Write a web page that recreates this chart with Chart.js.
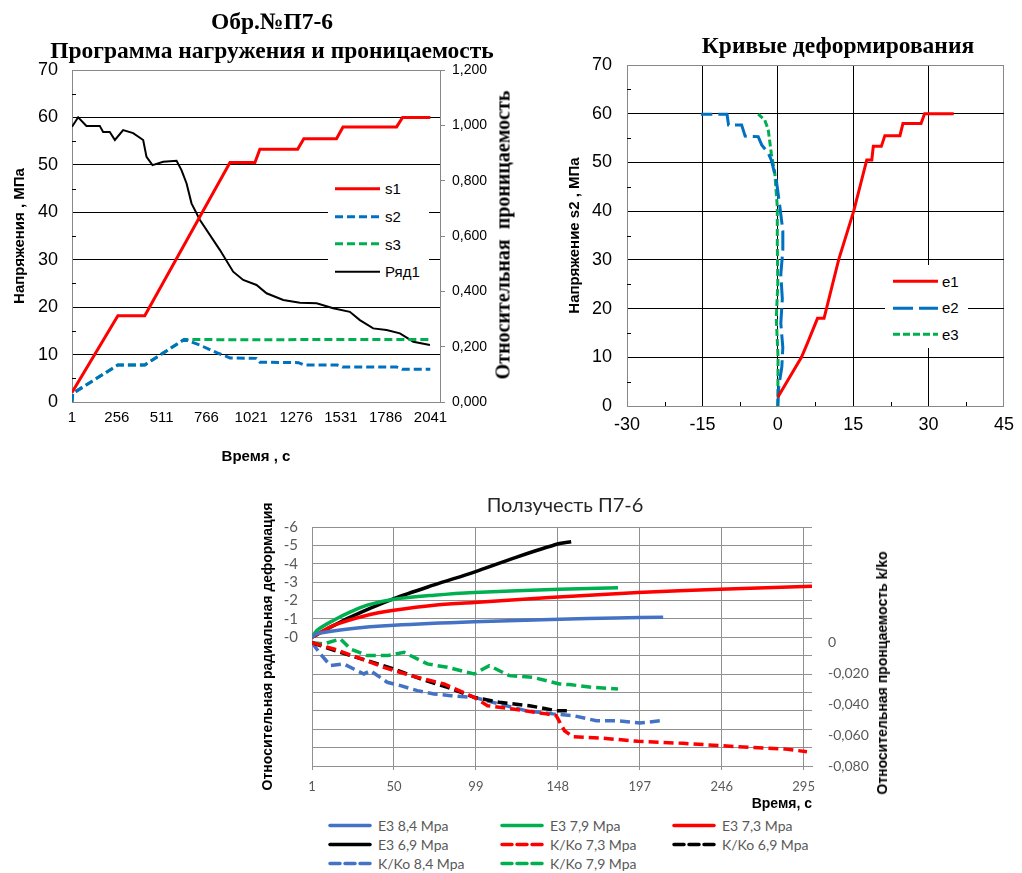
<!DOCTYPE html>
<html>
<head>
  <meta charset="utf-8">
  <title>Обр.№П7-6</title>
  <script src="https://cdn.jsdelivr.net/npm/chart.js"></script>
  <style>
    body { margin: 0; background: #fff; }
    .sheet { position: relative; width: 1022px; height: 873px; overflow: hidden; font-family: "Liberation Sans", Arial, sans-serif; }
    .sheet canvas { position: absolute; }
    .title { position: absolute; font-family: "Liberation Serif", "Times New Roman", serif; font-weight: bold; text-align: center; white-space: nowrap; color: #000; }
    .side { position: absolute; transform: translate(-50%, -50%) rotate(-90deg); white-space: nowrap; font-weight: bold; color: #000; }
    .legend { position: absolute; background: #fff; color: #000; }
    .legend .row { display: flex; align-items: center; white-space: nowrap; }
    .legend svg { display: block; flex: none; }
    #creepLegend { display: grid; grid-template-columns: repeat(3, 172px); background: none; color: #595959; font-family: Lato, "Noto Sans", sans-serif; font-size: 14px; }
  </style>
</head>
<body>
<div class="sheet">
  <canvas id="loadChart" width="520" height="470" style="left:0;top:0"></canvas>
  <canvas id="deformChart" width="482" height="430" style="left:540px;top:30px"></canvas>
  <canvas id="creepChart" width="650" height="325" style="left:250px;top:490px"></canvas>

  <!-- программа нагружения -->
  <div class="title" style="left:22px;top:7px;width:500px;font-size:23.5px;line-height:29px">Обр.№П7-6<br>Программа нагружения и проницаемость</div>
  <div class="side" style="left:503px;top:235px;font-family:'Liberation Serif',serif;font-size:20px">Относительная&nbsp; проницаемость</div>
  <div class="legend" id="loadLegend" style="left:328px;top:175px;width:101px;font-size:15px"></div>

  <!-- кривые деформирования -->
  <div class="title" style="left:638px;top:31px;width:400px;font-size:23.5px;line-height:28px">Кривые деформирования</div>
  <div class="legend" id="deformLegend" style="left:885px;top:265px;width:83px;height:80px;padding-top:3px;font-size:15px"></div>

  <!-- ползучесть -->
  <div style="position:absolute;left:365px;top:492px;width:400px;text-align:center;font-family:Lato,'Noto Sans',sans-serif;font-size:20px;color:#262626">Ползучесть П7-6</div>
  <div class="side" style="left:882px;top:673px;font-size:14px">Относительная пронцаемость k/ko</div>
  <div class="legend" id="creepLegend" style="left:328px;top:816px"></div>
</div>

<script>
  // ---- Программа нагружения (время, с) ----
  const loadTicks = [1, 256, 511, 766, 1021, 1276, 1531, 1786, 2041];

  const s1Time = [1, 262, 415, 900, 1042, 1070, 1285, 1320, 1506, 1543, 1848, 1882, 2040];
  const s1Val  = [2, 18.2, 18.2, 50.5, 50.5, 53.3, 53.3, 55.5, 55.5, 58, 58, 60, 60];

  const s2Time = [1, 5, 262, 415, 640, 729, 824, 900, 1050, 1070, 1290, 1320, 1510, 1540, 1848, 1880, 2040];
  const s2Val  = [0, 1.8, 7.8, 7.8, 13.2, 12.0, 10.4, 9.3, 9.2, 8.4, 8.3, 7.8, 7.8, 7.4, 7.4, 6.9, 6.9];

  const s3Time = [1, 5, 262, 415, 640, 1000, 1500, 2040];
  const s3Val  = [0, 1.8, 7.8, 7.8, 13.2, 13.1, 13.2, 13.2];

  const permTime = [1, 36, 83, 159, 178, 216, 245, 292, 349, 406, 425, 459, 520, 596, 624, 653, 681, 729,
                    842, 918, 975, 1051, 1108, 1203, 1298, 1393, 1487, 1582, 1639, 1715, 1791, 1867, 1943, 2038];
  const permVal  = [0.995, 1.029, 0.998, 0.998, 0.976, 0.976, 0.947, 0.983, 0.972, 0.947, 0.886, 0.856, 0.868, 0.872, 0.838, 0.79, 0.718, 0.658,
                    0.55, 0.471, 0.441, 0.423, 0.393, 0.369, 0.359, 0.357, 0.339, 0.326, 0.296, 0.266, 0.26, 0.248, 0.218, 0.206];

  // ---- Кривые деформирования (деформация, напряжение s2) ----
  const e1Strain = [0, 4.7, 5.9, 7.9, 9.2, 12.1, 15.1, 17.7, 18.7, 19.0, 20.6, 21.3, 24.3, 24.9, 28.5, 29.2, 35];
  const e1Stress = [1.8, 10, 12.9, 18, 18, 30, 40, 50.5, 50.5, 53.3, 53.3, 55.5, 55.5, 58, 58, 60, 60];

  const e2Strain = [0, 0.2, 0.8, 1.0, 0.6, 0.9, 0.6, 1.0, 1.0, 0.4, -0.3, -1.3, -1.9, -3.2, -3.9, -6.5, -7.2, -9.8, -10.1, -15.3];
  const e2Stress = [0, 4, 8, 12, 17, 22, 27, 32, 36, 41, 46.4, 50.5, 51.9, 53.6, 55.3, 55.4, 57.7, 57.7, 59.9, 59.9];

  const e3Strain = [0, 0.05, -0.3, 0, -0.1, -0.1, -0.6, -1.3, -1.9, -2.6, -3.9];
  const e3Stress = [0, 10, 18, 25, 33.4, 40.9, 47.8, 51.9, 56.7, 58.7, 59.9];

  // ---- Ползучесть П7-6 (время, с) ----
  const creepTicks = [1, 50, 99, 148, 197, 246, 295];

  const e84Time = [1, 4, 24, 50, 98, 149, 183, 211];
  const e84Val  = [0, -0.2, -0.47, -0.65, -0.84, -0.98, -1.05, -1.09];
  const e79Time = [1, 4, 14, 24, 34, 50, 74, 98, 149, 184];
  const e79Val  = [0, -0.38, -0.93, -1.38, -1.75, -2.07, -2.29, -2.44, -2.62, -2.69];
  const e73Time = [1, 14, 34, 50, 74, 98, 143, 196, 245, 300];
  const e73Val  = [0, -0.65, -1.2, -1.47, -1.75, -1.89, -2.16, -2.44, -2.62, -2.78];
  const e69Time = [1, 10, 24, 50, 74, 98, 123, 149, 156];
  const e69Val  = [0, -0.45, -1.1, -2.1, -2.85, -3.55, -4.35, -5.1, -5.2];

  const k73Time = [1, 14, 28, 44, 60, 80, 98, 106, 121, 141, 147, 152, 157, 173, 196, 223, 245, 263, 283, 297];
  const k73Val  = [0, -0.0041, -0.0095, -0.016, -0.0214, -0.0268, -0.0355, -0.0409, -0.043, -0.0462, -0.0473, -0.0571, -0.061, -0.0618, -0.064, -0.0653, -0.0668, -0.0679, -0.0689, -0.0707];
  const k69Time = [1, 6, 18, 34, 50, 66, 82, 98, 113, 131, 147, 155];
  const k69Val  = [0, -0.0019, -0.0063, -0.0117, -0.0171, -0.0235, -0.029, -0.0355, -0.0387, -0.0409, -0.0441, -0.0441];
  const k84Time = [1, 6, 12, 20, 26, 32, 36, 46, 54, 64, 74, 84, 98, 113, 129, 145, 157, 171, 183, 197, 210];
  const k84Val  = [0, -0.0073, -0.0149, -0.0138, -0.0171, -0.0203, -0.0182, -0.0257, -0.0279, -0.0311, -0.0333, -0.0344, -0.0355, -0.0398, -0.0441, -0.0462, -0.0473, -0.0506, -0.0506, -0.0521, -0.0506];
  const k79Time = [1, 8, 18, 24, 34, 46, 56, 70, 82, 98, 107, 119, 133, 149, 155, 169, 184];
  const k79Val  = [0, -0.0008, 0.0024, -0.0041, -0.0084, -0.0084, -0.0063, -0.0138, -0.016, -0.0203, -0.0149, -0.0214, -0.0225, -0.0268, -0.0272, -0.029, -0.030];

  function pts(xs, ys) {
    return xs.map((x, i) => ({ x: x, y: ys[i] }));
  }

  // мелкие засечки внутри области графика
  const minorTicks = {
    id: 'minorTicks',
    afterDatasetsDraw(chart, args, opts) {
      const ctx = chart.ctx, a = chart.chartArea;
      ctx.save();
      ctx.strokeStyle = opts.color || '#000';
      ctx.lineWidth = 1;
      (opts.axes || []).forEach(m => {
        const s = chart.scales[m.id];
        for (let v = s.min + m.step; v < s.max; v += 2 * m.step) {
          const p = Math.round(s.getPixelForValue(v)) + 0.5;
          ctx.beginPath();
          if (s.isHorizontal()) { ctx.moveTo(p, a.bottom); ctx.lineTo(p, a.bottom - 4); }
          else { ctx.moveTo(a.left, p); ctx.lineTo(a.left + 4, p); }
          ctx.stroke();
        }
      });
      ctx.restore();
    }
  };

  function buildLegend(id, datasets, o) {
    const box = document.getElementById(id);
    datasets.forEach(ds => {
      const row = document.createElement('div');
      row.className = 'row';
      row.style.height = o.rowH + 'px';
      row.style.paddingLeft = o.indent + 'px';
      const y = o.rowH / 2;
      const dash = (ds.borderDash || []).join(' ');
      row.innerHTML = '<svg width="' + o.lineW + '" height="' + o.rowH + '"><line x1="' + o.cap + '" y1="' + y +
        '" x2="' + (o.lineW - o.cap) + '" y2="' + y + '" stroke="' + ds.borderColor + '" stroke-width="' + ds.borderWidth +
        '" stroke-dasharray="' + dash + '" stroke-linecap="' + o.linecap + '"/></svg><span style="margin-left:' + o.gap + 'px">' +
        ds.label + '</span>';
      box.appendChild(row);
    });
  }

  Chart.defaults.font.family = '"Liberation Sans", Arial, sans-serif';
  Chart.defaults.color = '#000';

  // ---- график 1: программа нагружения ----
  const loadSets = [
    { label: 's1', data: pts(s1Time, s1Val), borderColor: '#ff0000', borderWidth: 3, yAxisID: 'y' },
    { label: 's2', data: pts(s2Time, s2Val), borderColor: '#0070c0', borderWidth: 3, borderDash: [8, 4], yAxisID: 'y' },
    { label: 's3', data: pts(s3Time, s3Val), borderColor: '#00b050', borderWidth: 3, borderDash: [8, 4], yAxisID: 'y' },
    { label: 'Ряд1', data: pts(permTime, permVal), borderColor: '#000000', borderWidth: 2, yAxisID: 'y1' }
  ];

  new Chart(document.getElementById('loadChart'), {
    type: 'line',
    data: { datasets: loadSets },
    options: {
      responsive: false,
      animation: false,
      elements: { point: { radius: 0 }, line: { tension: 0 } },
      layout: { padding: { top: 70 } },
      plugins: {
        legend: { display: false },
        tooltip: { enabled: false },
        minorTicks: { axes: [{ id: 'y', step: 5 }] }
      },
      scales: {
        x: {
          type: 'linear', min: 1, max: 2095,
          afterBuildTicks: s => { s.ticks = loadTicks.map(v => ({ value: v })); },
          afterFit: s => { s.height = 68; },
          grid: { drawOnChartArea: false, drawTicks: false },
          border: { color: '#888' },
          ticks: { autoSkip: false, maxRotation: 0, padding: 7, font: { size: 15 }, callback: v => String(v) },
          title: { display: true, text: 'Время , с', font: { size: 15, weight: 'bold' }, padding: { top: 0, bottom: 4 } }
        },
        y: {
          position: 'left', min: 0, max: 70,
          afterFit: s => { s.width = 72; },
          grid: { drawTicks: false, color: c => (c.tick.value === 0 || c.tick.value === 70) ? '#888' : '#000' },
          border: { color: '#888' },
          ticks: { stepSize: 10, padding: 14, font: { size: 18 } },
          title: { display: true, text: 'Напряжения , МПа', font: { size: 15, weight: 'bold' }, padding: { top: 11, bottom: 0 } }
        },
        y1: {
          position: 'right', min: 0, max: 1.2,
          afterFit: s => { s.width = 80; },
          grid: { drawOnChartArea: false, tickLength: 5, tickColor: '#888' },
          border: { color: '#888' },
          ticks: { stepSize: 0.2, padding: 7, font: { size: 14 }, callback: v => v.toFixed(3).replace('.', ',') }
        }
      }
    },
    plugins: [minorTicks]
  });

  buildLegend('loadLegend', loadSets, { rowH: 27.7, indent: 7, lineW: 45, cap: 0, gap: 5, linecap: 'butt' });

  // ---- график 2: кривые деформирования ----
  const deformSets = [
    { label: 'e1', data: pts(e1Strain, e1Stress), borderColor: '#ff0000', borderWidth: 3 },
    { label: 'e2', data: pts(e2Strain, e2Stress), borderColor: '#0070c0', borderWidth: 3, borderDash: [20, 6] },
    { label: 'e3', data: pts(e3Strain, e3Stress), borderColor: '#00b050', borderWidth: 3, borderDash: [7, 3] }
  ];

  new Chart(document.getElementById('deformChart'), {
    type: 'scatter',
    data: { datasets: deformSets },
    options: {
      responsive: false,
      animation: false,
      showLine: true,
      elements: { point: { radius: 0 }, line: { tension: 0 } },
      layout: { padding: { top: 35, right: 13 } },
      plugins: {
        legend: { display: false },
        tooltip: { enabled: false },
        minorTicks: { axes: [{ id: 'y', step: 5 }, { id: 'x', step: 7.5 }] }
      },
      scales: {
        x: {
          min: -30, max: 45,
          afterFit: s => { s.height = 54; },
          grid: { drawTicks: false, color: c => (c.tick.value === -30 || c.tick.value === 45) ? '#888' : '#000' },
          border: { color: '#888' },
          ticks: { stepSize: 15, padding: 8, maxRotation: 0, font: { size: 18 } }
        },
        y: {
          min: 0, max: 70,
          afterFit: s => { s.width = 87; },
          grid: { drawTicks: false, color: c => (c.tick.value === 0 || c.tick.value === 70) ? '#888' : '#000' },
          border: { color: '#888' },
          ticks: { stepSize: 10, padding: 15, font: { size: 18 } },
          title: { display: true, text: 'Напряжение s2 , МПа', font: { size: 15, weight: 'bold' }, padding: { top: 26, bottom: 0 } }
        }
      }
    },
    plugins: [minorTicks]
  });

  buildLegend('deformLegend', deformSets, { rowH: 26.5, indent: 8, lineW: 45, cap: 0, gap: 4, linecap: 'butt' });

  // ---- график 3: ползучесть ----
  const creepSets = [
    { label: 'E3 8,4 Mpa', data: pts(e84Time, e84Val), borderColor: '#4472c4', yAxisID: 'y' },
    { label: 'E3 7,9 Mpa', data: pts(e79Time, e79Val), borderColor: '#00b050', yAxisID: 'y' },
    { label: 'E3 7,3 Mpa', data: pts(e73Time, e73Val), borderColor: '#ff0000', yAxisID: 'y' },
    { label: 'E3 6,9 Mpa', data: pts(e69Time, e69Val), borderColor: '#000000', yAxisID: 'y' },
    { label: 'K/Ko 7,3 Mpa', data: pts(k73Time, k73Val), borderColor: '#ff0000', borderDash: [10, 5], tension: 0, yAxisID: 'y1' },
    { label: 'K/Ko 6,9 Mpa', data: pts(k69Time, k69Val), borderColor: '#000000', borderDash: [10, 5], tension: 0, yAxisID: 'y1' },
    { label: 'K/Ko 8,4 Mpa', data: pts(k84Time, k84Val), borderColor: '#4472c4', borderDash: [10, 5], tension: 0, yAxisID: 'y1' },
    { label: 'K/Ko 7,9 Mpa', data: pts(k79Time, k79Val), borderColor: '#00b050', borderDash: [10, 5], tension: 0, yAxisID: 'y1' }
  ];
  creepSets.forEach(ds => { ds.borderWidth = 3.5; });

  const creepFamily = 'Lato, "Noto Sans", sans-serif';
  const creepGridColor = '#909090';

  new Chart(document.getElementById('creepChart'), {
    type: 'line',
    data: { datasets: creepSets },
    options: {
      responsive: false,
      animation: false,
      elements: { point: { radius: 0 }, line: { tension: 0.3 } },
      layout: { padding: { top: 37 } },
      plugins: { legend: { display: false }, tooltip: { enabled: false } },
      scales: {
        x: {
          type: 'linear', min: 1, max: 300,
          afterBuildTicks: s => { s.ticks = creepTicks.map(v => ({ value: v })); },
          afterFit: s => { s.height = 49; },
          grid: { color: creepGridColor, tickLength: 4, tickColor: creepGridColor },
          border: { color: creepGridColor },
          ticks: { autoSkip: false, maxRotation: 0, padding: 9, color: '#595959', font: { family: creepFamily, size: 13 }, callback: v => String(v) },
          title: { display: true, align: 'end', text: 'Время, с', font: { size: 14, weight: 'bold' }, padding: { top: 0, bottom: 2 } }
        },
        y: {
          position: 'left', reverse: true, min: -6, max: 7,
          afterFit: s => { s.width = 62; },
          grid: { color: creepGridColor, drawTicks: false },
          border: { color: creepGridColor },
          ticks: { stepSize: 1, autoSkip: false, padding: 14, color: '#595959', font: { family: creepFamily, size: 15 },
                   callback: v => v <= 0 ? '-' + Math.abs(v) : '' },
          title: { display: true, text: 'Относительная радиальная деформация', font: { size: 14, weight: 'bold' }, padding: { top: 9.6, bottom: 0 } }
        },
        y1: {
          position: 'right', min: -0.08, max: 0.075,
          afterFit: s => { s.width = 88; },
          grid: { drawOnChartArea: false, drawTicks: false },
          border: { display: false },
          ticks: { stepSize: 0.02, autoSkip: false, padding: 16, color: '#595959', font: { family: creepFamily, size: 14 },
                   callback: v => v > 0.0001 ? '' : (Math.abs(v) < 0.0001 ? '0' : v.toFixed(3).replace('.', ',')) }
        }
      }
    }
  });

  buildLegend('creepLegend', creepSets, { rowH: 19, indent: 0, lineW: 44, cap: 2, gap: 6, linecap: 'round' });
</script>
</body>
</html>
